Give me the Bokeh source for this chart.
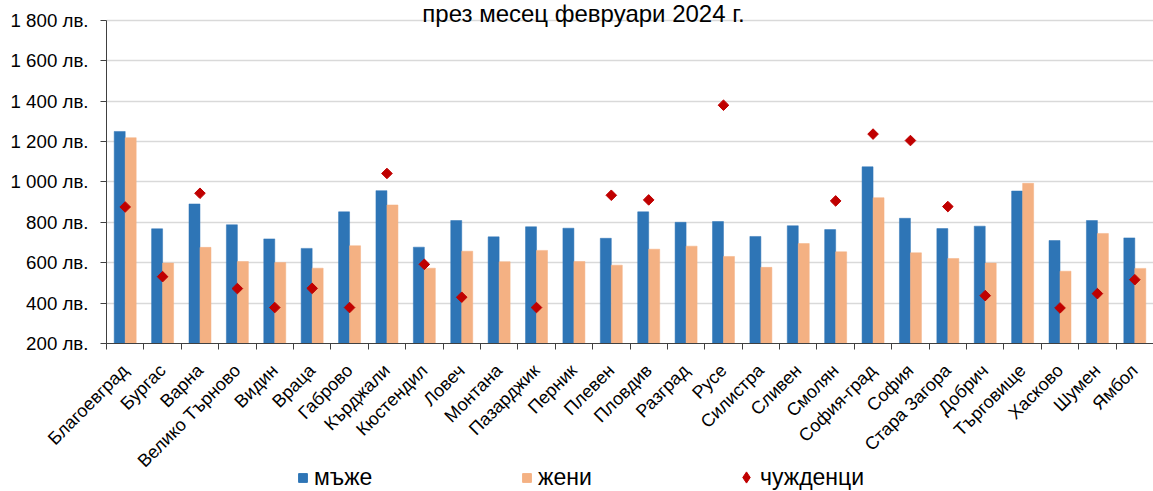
import math
from bokeh.plotting import figure
from bokeh.layouts import column
from bokeh.models import Range1d, FixedTicker, Legend, LegendItem, Label, ColumnDataSource
from bokeh.embed import file_html
from bokeh.resources import INLINE

regions = ["Благоевград", "Бургас", "Варна", "Велико Търново", "Видин", "Враца", "Габрово",
           "Кърджали", "Кюстендил", "Ловеч", "Монтана", "Пазарджик", "Перник", "Плевен",
           "Пловдив", "Разград", "Русе", "Силистра", "Сливен", "Смолян", "София-град",
           "София", "Стара Загора", "Добрич", "Търговище", "Хасково", "Шумен", "Ямбол"]
men = [1250, 768, 891, 788, 718, 671, 852, 957, 677, 809, 728, 778, 771, 721,
       852, 800, 804, 730, 783, 764, 1075, 820, 769, 781, 955, 710, 809, 723]
women = [1219, 598, 676, 606, 601, 573, 684, 886, 573, 657, 605, 661, 606, 588,
         667, 682, 631, 577, 695, 654, 922, 649, 621, 598, 993, 558, 745, 572]
nan = float("nan")
foreigners = [876, 531, 944, 472, 378, 473, 378, 1042, 592, 429, nan, 378, nan, 934,
              911, nan, 1380, nan, nan, 906, 1237, 1205, 878, 437, nan, 376, 447, 516]
y_ticks = [200, 400, 600, 800, 1000, 1200, 1400, 1600, 1800]
title_text = "през месец февруари 2024 г."
series_names = ["мъже", "жени", "чужденци"]

FONT = "Liberation Sans"
BLUE = "#2E75B6"
ORANGE = "#F4B183"
RED = "#C00000"
AXIS = "#404040"

W = 1153
TOP_PAD = 20          # pixels between canvas top and the top gridline
PLOT_H = 325          # pixels from the top gridline to the x axis
FRAME_H = TOP_PAD + PLOT_H
LEFT = 106
B = 136               # room for the rotated category labels
H1 = FRAME_H + B
H2 = 26
OVERLAP = H1 + H2 - 491

n = len(regions)
centers = [i + 0.5 for i in range(n)]
bw = 0.294
src = ColumnDataSource(dict(
    xm=[c - bw / 2 for c in centers],
    xw=[c + bw / 2 for c in centers],
    xc=centers,
    men=men, women=women, foreigners=foreigners,
))

y0, y1 = y_ticks[0], y_ticks[-1]
y_top = y1 + (y1 - y0) * TOP_PAD / PLOT_H

p = figure(width=W, height=H1, output_backend="svg", toolbar_location=None,
           x_range=Range1d(0, n), y_range=Range1d(y0, y_top),
           min_border_left=LEFT, min_border_right=0, min_border_top=0,
           min_border_bottom=B)
p.outline_line_color = None
p.background_fill_color = "white"
p.border_fill_color = "white"

r_men = p.vbar(x="xm", top="men", bottom=0, width=bw, source=src,
               fill_color=BLUE, line_color=BLUE, line_width=0.5)
r_women = p.vbar(x="xw", top="women", bottom=0, width=bw, source=src,
                 fill_color=ORANGE, line_color=ORANGE, line_width=0.5)
r_for = p.scatter(x="xc", y="foreigners", source=src, marker="square", size=7.5,
                  angle=math.pi / 4, fill_color=RED, line_color=RED)

# x axis
p.xaxis.ticker = FixedTicker(ticks=centers, minor_ticks=list(range(n + 1)))
p.xaxis.major_label_overrides = {c: name for c, name in zip(centers, regions)}
p.xaxis.major_label_orientation = math.pi / 4
p.xaxis.major_tick_out = 0
p.xaxis.major_tick_in = 0
p.xaxis.minor_tick_out = 6
p.xaxis.minor_tick_in = 0
p.xaxis.minor_tick_line_color = AXIS
p.xaxis.axis_line_color = AXIS
p.xaxis.major_label_text_font = FONT
p.xaxis.major_label_text_font_size = "18px"
p.xaxis.major_label_text_color = "black"
p.xaxis.major_label_standoff = 18
p.xgrid.visible = False

# y axis
p.yaxis.ticker = FixedTicker(ticks=y_ticks)
p.yaxis.bounds = (y0, y1)
p.yaxis.major_label_overrides = {v: f"{v:,} лв.".replace(",", " ") for v in y_ticks}
p.yaxis.major_tick_out = 6
p.yaxis.major_tick_in = 0
p.yaxis.minor_tick_line_color = None
p.yaxis.major_tick_line_color = AXIS
p.yaxis.axis_line_color = AXIS
p.yaxis.major_label_text_font = FONT
p.yaxis.major_label_text_font_size = "18.7px"
p.yaxis.major_label_text_color = "black"
p.yaxis.major_label_standoff = 12
p.ygrid.grid_line_color = "#D9D9D9"
p.ygrid.grid_line_width = 1.5

# title (screen units are relative to the plot frame)
p.add_layout(Label(x=583 - LEFT, y=FRAME_H - 15, x_units="screen", y_units="screen",
                   text=title_text, text_align="center", text_baseline="alphabetic",
                   text_font=FONT, text_font_size="24px", text_color="black"))

# legend strip
p2 = figure(width=W, height=H2, output_backend="svg", toolbar_location=None,
            x_axis_type=None, y_axis_type=None, x_range=Range1d(0, 1), y_range=Range1d(0, 1),
            min_border=0, min_border_left=0, min_border_right=0,
            min_border_top=0, min_border_bottom=0, margin=(-OVERLAP, 0, 0, 0))
p2.outline_line_color = None
p2.grid.visible = False
p2.background_fill_alpha = 0
p2.border_fill_alpha = 0
l_men = p2.vbar(x=[-10], top=[-10], width=0.1, fill_color=BLUE, line_color=BLUE)
l_women = p2.vbar(x=[-10], top=[-10], width=0.1, fill_color=ORANGE, line_color=ORANGE)
l_for = p2.scatter(x=[-10], y=[-10], marker="diamond", size=8,
                   fill_color=RED, line_color=RED)

legend_style = dict(orientation="horizontal", padding=0, margin=0, label_height=22,
                    border_line_color=None, background_fill_alpha=0,
                    label_text_font=FONT, label_text_font_size="23px",
                    label_text_color="black")
legend_bars = Legend(items=[LegendItem(label=series_names[0], renderers=[l_men]),
                            LegendItem(label=series_names[1], renderers=[l_women])],
                     location=(297 - LEFT, 0), glyph_width=11, glyph_height=11,
                     label_standoff=6, spacing=57, label_width=150, **legend_style)
legend_pts = Legend(items=[LegendItem(label=series_names[2], renderers=[l_for])],
                    location=(732 - LEFT, 0), glyph_width=28, glyph_height=28,
                    label_standoff=-8, **legend_style)
p2.add_layout(legend_bars, "center")
p2.add_layout(legend_pts, "center")

layout = column(p, p2, spacing=0)
open("out.html", "w").write(file_html(layout, INLINE))
